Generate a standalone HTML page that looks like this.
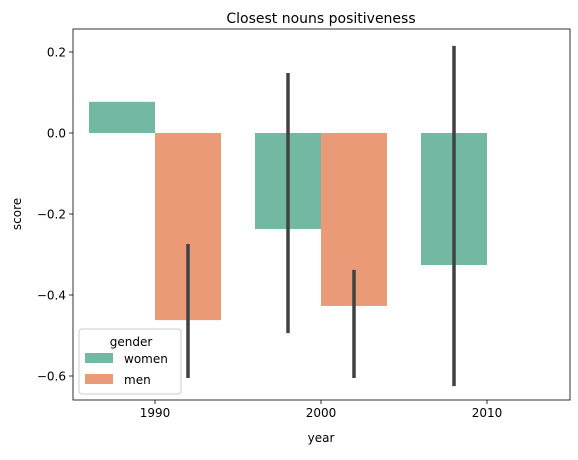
<!DOCTYPE html>
<html><head><meta charset="utf-8"><style>
body{margin:0;background:#fff;font-family:"Liberation Sans","DejaVu Sans",sans-serif}
svg text{font-family:"DejaVu Sans","Liberation Sans",sans-serif;fill:#000}
</style></head><body>
<svg id="c" width="578" height="455"></svg>
<script>
const categories=["1990","2000","2010"];
const womenValues=[0.077,-0.237,-0.326];
const menValues=[-0.462,-0.427,null];
const womenErrLow=[null,-0.494,-0.625];
const womenErrHigh=[null,0.148,0.215];
const menErrLow=[-0.605,-0.605,null];
const menErrHigh=[-0.274,-0.338,null];
const yTicks=[0.2,0.0,-0.2,-0.4,-0.6];
const yTickLabels=["0.2","0.0","−0.2","−0.4","−0.6"];
const L=73,R=570,T=29,B=400;
const y=v=>133-v*405;
const x=i=>155+i*166;
const NS="http://www.w3.org/2000/svg";
const svg=document.getElementById('c');
function el(t,a,txt){const e=document.createElementNS(NS,t);for(const k in a)e.setAttribute(k,a[k]);if(txt!=null)e.textContent=txt;svg.appendChild(e);return e;}
function bar(i,v,off,col,name){if(v==null)return;const y0=y(0),y1=y(v);
const r=el('rect',{x:x(i)+off,y:Math.min(y0,y1),width:66,height:Math.abs(y1-y0),fill:col});

}
function err(i,lo,hi,off,name){if(lo==null)return;
const l=el('line',{x1:x(i)+off,x2:x(i)+off,y1:y(hi),y2:y(lo),stroke:'#424242','stroke-width':3.5});

}
categories.forEach((c,i)=>{
bar(i,womenValues[i],-66,'#73b8a2','bar-women-'+c);
bar(i,menValues[i],0,'#ea9a77','bar-men-'+c);
});
categories.forEach((c,i)=>{
err(i,womenErrLow[i],womenErrHigh[i],-33,'errorbar-women-'+c);
err(i,menErrLow[i],menErrHigh[i],33,'errorbar-men-'+c);
});
el('rect',{x:L,y:T,width:R-L,height:B-T,fill:'none',stroke:'#000','stroke-width':0.8});
yTicks.forEach((v,i)=>{
el('line',{x1:L-4,x2:L,y1:y(v),y2:y(v),stroke:'#000','stroke-width':0.8});
const t=el('text',{x:L-7,y:y(v)+4.5,'text-anchor':'end','font-size':12},yTickLabels[i]);


});
categories.forEach((c,i)=>{
el('line',{x1:x(i),x2:x(i),y1:B,y2:B+4,stroke:'#000','stroke-width':0.8});
const t=el('text',{x:x(i),y:B+17,'text-anchor':'middle','font-size':12},c);


});
</script>
<svg style="position:absolute;left:0;top:0" width="578" height="455">
<text x="321" y="23" text-anchor="middle" font-size="14">Closest nouns positiveness</text>
<text x="321" y="442" text-anchor="middle" font-size="12">year</text>
<text x="21" y="214" text-anchor="middle" font-size="12" transform="rotate(-90 21 214)">score</text>
<g>
<rect x="79" y="329" width="102" height="65" rx="3" fill="#fff" fill-opacity="0.8" stroke="#ccc"/>
<text x="131" y="346" text-anchor="middle" font-size="12">gender</text>
<rect x="85" y="353" width="28" height="10" fill="#73b8a2"/>
<text x="124" y="363" font-size="12">women</text>
<rect x="85" y="374" width="28" height="10" fill="#ea9a77"/>
<text x="124" y="384" font-size="12">men</text>
</g>
</svg>
</body></html>
